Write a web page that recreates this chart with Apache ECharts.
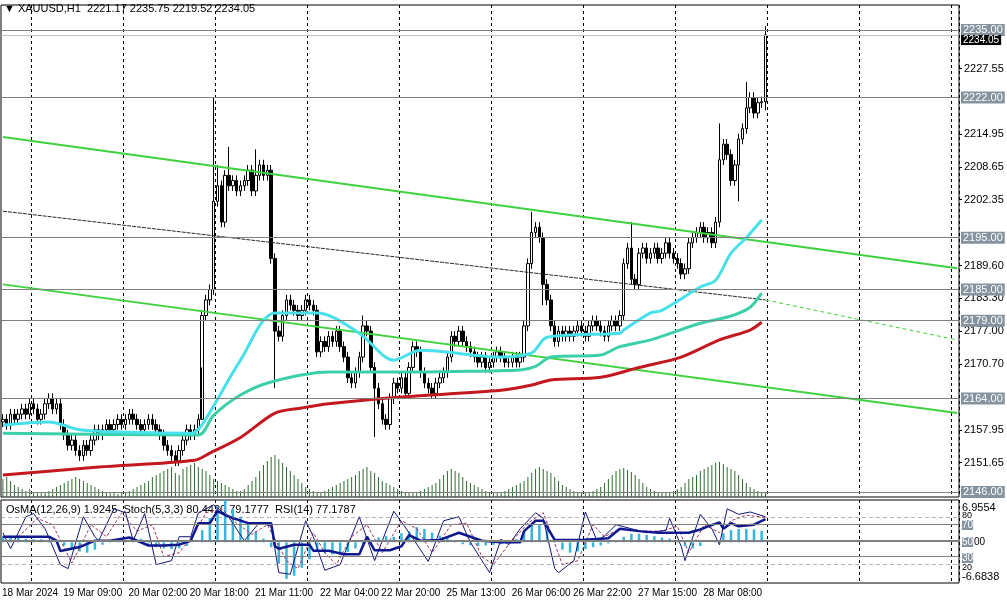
<!DOCTYPE html>
<html><head><meta charset="utf-8">
<script src="https://cdn.jsdelivr.net/npm/echarts@6/dist/echarts.min.js"></script>
<style>html,body{margin:0;padding:0;background:#fff}#c{width:1007px;height:603px}</style>
</head><body><div id="c"></div>
<script>
const SLOTS = 250;
const firstOpen = 2159.5;
const closes = [
2160,2159,2161,2160,2161,2162,2161,2163,2162,2160,
2161,2163,2164,2162,2163,2159,2157,2155,2156,2154,
2153,2155,2154,2156,2158,2157,2158,2159,2158,2159,
2160,2159,2160,2161,2160,2159,2158,2159,2160,2159,
2158,2157,2155,2154,2153,2152,2154,2156,2158,2157,
2158,2160,2180,2183,2185,2202,2205,2198,2207,2205,
2206,2204,2205,2206,2208,2204,2207,2209,2207,2208,
2191,2177,2176,2180,2183,2182,2181,2180,2181,2183,
2182,2181,2173,2175,2174,2176,2175,2177,2174,2172,
2168,2167,2169,2172,2178,2177,2170,2166,2163,2160,
2159,2164,2167,2166,2168,2165,2170,2174,2173,2169,
2167,2166,2165,2167,2168,2169,2172,2176,2175,2177,
2175,2174,2173,2172,2171,2172,2170,2171,2172,2173,
2172,2171,2171,2172,2171,2172,2178,2190,2196,2197,
2195,2186,2183,2178,2175,2177,2176,2177,2176,2177,
2178,2177,2176,2178,2179,2178,2177,2176,2178,2179,
2178,2180,2190,2193,2187,2186,2192,2193,2191,2192,
2193,2191,2192,2194,2192,2191,2190,2188,2189,2194,
2195,2196,2197,2195,2196,2194,2198,2210,2213,2211,
2206,2209,2214,2216,2220,2222,2219,2221,2221.17,2234.05];
const highSpikes = {55:2222,56:2209,59:2212.5,66:2212,94:2180,138:2200,164:2198,187:2217,194:2225,199:2235.75};
const lowSpikes = {52:2170,71:2166,97:2156.6,141:2182,192:2202,199:2219.52};
const volumes = [
18,20,16,12,10,8,6,8,5,4, 4,5,6,8,10,12,14,16,18,20, 18,16,14,12,10,8,6,5,4,4,
3,4,5,6,8,10,12,14,16,20, 22,24,26,28,30,24,22,28,30,32, 34,30,28,26,22,18,16,14,12,10,
8,6,6,8,12,16,20,26,32,36, 40,42,38,34,30,26,22,18,14,10, 8,6,5,5,6,8,10,12,14,16,
18,20,22,26,28,30,26,24,20,16, 14,12,10,8,6,5,4,4,5,6, 8,10,12,14,18,22,26,28,26,24,
20,16,14,12,10,8,6,5,4,4, 5,6,8,10,12,14,16,20,24,28, 30,28,26,24,20,16,12,10,8,6,
5,4,4,5,6,8,10,14,18,22, 26,28,29,27,25,22,18,14,10,8, 6,5,4,4,5,6,8,10,14,18,
20,22,26,28,30,32,34,35,33,30, 28,26,22,18,14,10,8,6,5,4];
const maFast = [[0,2158.9],[12,2159.5],[20,2158],[33,2157.5],[49,2157.3],[52,2159],[62,2171.4],[71,2180.5],[82,2180.5],[93,2176.6],[102,2171.4],[109,2173.3],[130,2172],[138,2172.8],[142,2175.8],[161,2176.6],[162,2177.2],[169,2180.5],[172,2181],[182,2185.5],[186,2186.8],[190,2192],[194,2195],[198,2198.4]];
const maMid = [[0,2157.3],[51,2157],[55,2160.8],[62,2164.7],[70,2167.2],[85,2169.1],[104,2169.1],[117,2169.2],[135,2169.5],[139,2170.2],[143,2172],[156,2172.4],[161,2174],[169,2175.3],[182,2178.5],[190,2179.9],[195,2181.6],[198,2184.3]];
const maSlow = [[0,2149.3],[25,2150.8],[50,2152.1],[54,2153.5],[62,2156.5],[71,2161.2],[78,2162.2],[85,2163],[104,2164.3],[130,2165.6],[138,2166.6],[143,2167.6],[156,2168.1],[166,2170],[177,2172],[187,2175.3],[195,2177.2],[198,2178.7]];
const chanUpper = [[0,2214.4],[249,2189.1]];
const chanLower = [[0,2186],[249,2161.2]];
const chanMid = [[0,2200.1],[199,2183]];
const chanMidExt = [[199,2183],[249,2175.3]];
const levels = [2235,2222,2195,2185,2179,2164,2146];
const lastPrice = 2234.05;
const priceTicks = [2151.65,2157.95,2170.70,2177.00,2183.30,2189.60,2202.35,2208.65,2214.95,2227.55];
const dateLabels = {0:'18 Mar 2024',16:'19 Mar 09:00',33:'20 Mar 02:00',49:'20 Mar 18:00',66:'21 Mar 11:00',83:'22 Mar 04:00',99:'22 Mar 20:00',116:'25 Mar 13:00',133:'26 Mar 06:00',149:'26 Mar 22:00',166:'27 Mar 15:00',183:'28 Mar 08:00'};
const osmaVals = [1.0,1.1,0.9,0.6,0.5,0.5,0.4,0.2,-0.5,-1.0,-1.5,-1.7,-1.2,-0.4,0.1,0.2,0.3,0.5,0.6,-0.2,-0.8,-1.0,-1.1,-1.0,-0.6,0.0,2.0,4.0,5.8,6.9,5.5,4.2,3.0,1.8,0.6,-0.8,-3.5,-6.0,-5.5,-4.2,-2.8,-1.6,-1.8,-2.0,-1.9,-1.6,-1.0,-0.3,0.4,0.8,1.0,0.9,1.5,1.8,2.5,2.2,1.6,1.1,0.7,0.2,-0.3,-0.5,-0.6,-0.5,-0.4,-0.3,0.1,0.5,2.0,3.0,3.0,2.0,0.2,-1.2,-1.7,-1.5,-1.1,-0.8,-0.5,-0.2,0.1,0.9,1.4,1.4,1.2,1.0,0.8,0.6,0.3,-0.6,-1.0,-0.6,0.0,0.3,1.5,2.0,2.2,2.2,2.1,1.9];
const rsi = [[0,55],[12,55],[14,50],[15,37],[20,42],[24,50],[28,50],[33,54],[38,44],[42,44],[46,45],[49,50],[51,72],[54,72],[56,87],[59,80],[64,72],[70,72],[71,43],[72,40],[76,45],[80,45],[81,37.5],[85,37.5],[89,33],[93,33],[95,55],[97,38],[101,38],[104,43],[106,57],[109,50],[114,51],[119,60],[125,50],[130,48],[135,48],[136,62],[139,75],[141,75],[144,51],[151,51],[158,53],[161,65],[166,62],[171,60],[179,60],[182,64],[184,68],[187,73],[188,65],[190,72],[192,68],[196,70],[199,77]];
const stochMain = [[0,60],[2,40],[6,80],[8,84],[11,65],[15,20],[17,15],[21,80],[24,55],[25,50],[29,90],[32,85],[34,50],[37,84],[40,20],[44,25],[46,55],[49,55],[51,85],[55,95],[59,79],[63,50],[67,73],[70,68],[72,10],[75,8],[79,75],[81,55],[84,13],[88,20],[93,80],[97,25],[102,87],[106,60],[111,24],[115,75],[119,80],[122,48],[127,10],[130,52],[132,45],[135,65],[139,85],[141,78],[144,15],[145,10],[149,25],[152,86],[155,50],[157,56],[160,70],[164,65],[168,60],[173,63],[174,78],[177,43],[178,25],[182,83],[185,65],[187,45],[189,90],[192,83],[195,86],[199,80]];
const stochSignal = [[0,55],[4,55],[9,78],[13,70],[18,22],[23,70],[27,55],[31,85],[35,62],[39,70],[42,30],[46,35],[50,60],[53,85],[57,90],[61,72],[65,58],[69,70],[74,25],[77,15],[81,60],[84,35],[87,20],[91,55],[95,70],[99,35],[104,75],[108,65],[112,35],[117,70],[121,72],[125,30],[128,20],[132,45],[137,72],[141,85],[143,60],[146,20],[150,25],[154,70],[157,55],[161,65],[166,62],[172,62],[176,68],[179,35],[183,70],[187,60],[190,75],[194,82],[199,79]];
const indLevels = [80,70,50,30,20];

const cats = []; for (let i=0;i<SLOTS;i++) cats.push(dateLabels[i]||'');
const ohlc = closes.map((c,i)=>{
  const o = i===0?firstOpen:closes[i-1];
  const h = highSpikes[i]!==undefined?highSpikes[i]:Math.max(o,c)+1;
  const l = lowSpikes[i]!==undefined?lowSpikes[i]:Math.min(o,c)-1;
  return [o,c,l,h];
});
const osma = osmaVals.map((v,k)=>[k*2,v]);
const volData = volumes.map((v,i)=>[i,v]);

const F = 'Liberation Sans';
const chart = echarts.init(document.getElementById('c'));
const vsplit = {show:true, interval:(i)=>i>=8 && (i-8)%24===0, lineStyle:{color:'#000',type:[3,3],width:1}};
const lvlLine = levels.map(v=>({yAxis:v, lineStyle:{color:'#808080',width:1,type:'solid'},
  label:{formatter:v.toFixed(2), position:'end', distance:2, color:'#fff', backgroundColor:'#8593a0', padding:[1,2,0,2], fontSize:11, fontFamily:F}}));
lvlLine.push({yAxis:lastPrice, lineStyle:{color:'#c0c0c0',width:1,type:'solid'},
  label:{formatter:lastPrice.toFixed(2), position:'end', distance:2, color:'#fff', backgroundColor:'#000', padding:[0,2,0,2], fontSize:10, fontFamily:F, offset:[0,5]}});
const indLines = indLevels.map(v=>({yAxis:v, lineStyle:{color:'#808080', width: v===50?2:1, type:(v===80||v===20)?[4,3]:'solid', opacity:(v===80||v===20)?0.6:1}, label:{show:false}}));

const xLabelGraphics = Object.keys(dateLabels).map(k=>({type:'text', left:2 + 3.832*(+k), top:588,
  style:{text:dateLabels[k], fill:'#000', font:'10px "Liberation Sans"'}}));

chart.setOption({
  animation:false,
  backgroundColor:'#fff',
  grid:[
    {left:1, top:5, width:958, height:492, show:true, borderColor:'#000', borderWidth:1},
    {left:1, top:500, width:958, height:83, show:true, borderColor:'#000', borderWidth:1}
  ],
  xAxis:[
    {type:'category', gridIndex:0, data:cats, boundaryGap:true, axisLabel:{show:false}, axisTick:{show:false}, axisLine:{show:false}, splitLine:vsplit},
    {type:'category', gridIndex:1, data:cats, boundaryGap:true, axisLine:{show:false}, axisTick:{show:false}, splitLine:vsplit, axisLabel:{show:false}}
  ],
  yAxis:[
    {type:'value', gridIndex:0, position:'right', min:2145.04, max:2239.82, splitLine:{show:false}, axisLine:{show:false},
     axisTick:{show:true, customValues:priceTicks, length:3, lineStyle:{color:'#000'}},
     axisLabel:{customValues:priceTicks, formatter:v=>v.toFixed(2), color:'#000', fontSize:11, fontFamily:F, margin:5}},
    {type:'value', gridIndex:0, min:0, max:492, show:false},
    {type:'value', gridIndex:1, min:-6.6838, max:6.9554, show:false},
    {type:'value', gridIndex:1, min:-3, max:101, show:false}
  ],
  series:[
    {type:'bar', xAxisIndex:0, yAxisIndex:1, data:volData, barWidth:1, itemStyle:{color:'#2f6b2f'}, silent:true},
    {type:'line', data:chanUpper, symbol:'none', lineStyle:{color:'#3fd23f', width:2}, silent:true},
    {type:'line', data:chanLower, symbol:'none', lineStyle:{color:'#3fd23f', width:2}, silent:true},
    {type:'line', data:chanMid, symbol:'none', lineStyle:{color:'#203020', width:1, type:[4,1]}, silent:true},
    {type:'line', data:chanMidExt, symbol:'none', lineStyle:{color:'#3fd23f', width:1, type:[4,3]}, silent:true},
    {type:'line', data:maSlow, symbol:'none', smooth:0.3, lineStyle:{color:'#c41820', width:3}, silent:true},
    {type:'line', data:maMid, symbol:'none', smooth:0.3, lineStyle:{color:'#3cd0a8', width:3}, silent:true},
    {type:'line', data:maFast, symbol:'none', smooth:0.3, lineStyle:{color:'#48e0ea', width:3}, silent:true},
    {type:'candlestick', xAxisIndex:0, yAxisIndex:0, data:ohlc, barWidth:3,
     itemStyle:{color:'#fff', color0:'#000', borderColor:'#000', borderColor0:'#000', borderWidth:1},
     markLine:{symbol:'none', silent:true, data:lvlLine}},
    {type:'bar', xAxisIndex:1, yAxisIndex:2, data:osma, barWidth:2.5, itemStyle:{color:'#35b6df'}, silent:true},
    {type:'line', xAxisIndex:1, yAxisIndex:3, data:stochSignal, symbol:'none', lineStyle:{color:'#a0305a', width:1, type:[3,2]}, silent:true,
     markLine:{symbol:'none', silent:true, data:indLines}},
    {type:'line', xAxisIndex:1, yAxisIndex:3, data:stochMain, symbol:'none', lineStyle:{color:'#14147a', width:1}, silent:true},
    {type:'line', xAxisIndex:1, yAxisIndex:3, data:rsi, symbol:'none', lineStyle:{color:'#101890', width:2.5}, silent:true}
  ],
  graphic:[
    {type:'text', left:4, top:3, style:{text:'\u25BC XAUUSD,H1  2221.17 2235.75 2219.52 2234.05', fill:'#000', font:'11px "Liberation Sans"'}},
    {type:'text', left:6, top:504, style:{text:'OsMA(12,26,9) 1.9245  Stoch(5,3,3) 80.4420 79.1777  RSI(14) 77.1787', fill:'#000', font:'11px "Liberation Sans"'}},
    {type:'text', left:962, top:502, style:{text:'6.9554', fill:'#000', font:'11px "Liberation Sans"'}},
    {type:'text', left:962, top:511, style:{text:'80', fill:'#000', font:'9px "Liberation Sans"'}},
    {type:'text', left:962, top:520, style:{text:'70', fill:'#fff', backgroundColor:'#8593a0', font:'10px "Liberation Sans"'}},
    {type:'text', left:962, top:537, style:{text:'50', fill:'#fff', backgroundColor:'#8593a0', font:'10px "Liberation Sans"'}},
    {type:'text', left:974, top:537, style:{text:'00', fill:'#000', font:'10px "Liberation Sans"'}},
    {type:'text', left:962, top:553, style:{text:'30', fill:'#fff', backgroundColor:'#8593a0', font:'10px "Liberation Sans"'}},
    {type:'text', left:962, top:563, style:{text:'20', fill:'#000', font:'9px "Liberation Sans"'}},
    {type:'text', left:962, top:571, style:{text:'-6.6838', fill:'#000', font:'11px "Liberation Sans"'}}
  ].concat(xLabelGraphics)
});
</script></body></html>
